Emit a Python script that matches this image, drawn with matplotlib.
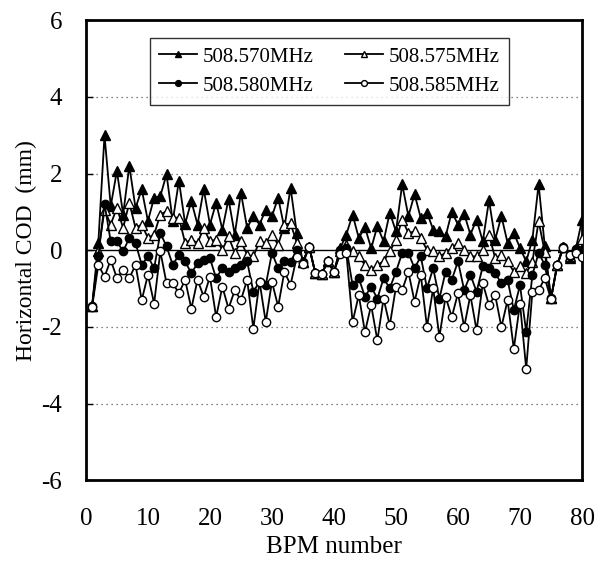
import numpy as np
import matplotlib
matplotlib.use("Agg")
import matplotlib.pyplot as plt

plt.rcParams['font.family'] = ['Liberation Serif', 'DejaVu Serif']
plt.rcParams['axes.unicode_minus'] = False

bpm = list(range(1, 81))

cod_570 = [-1.45, 0.19, 3.0, 1.15, 2.07, 0.93, 2.2, 1.1, 1.59, 0.76,
           1.37, 1.41, 1.98, 0.76, 1.81, 0.69, 1.28, 0.67, 1.59, 0.67,
           1.24, 0.54, 1.33, 0.41, 1.5, 0.58, 0.89, 0.67, 1.06, 0.89,
           1.37, 0.58, 1.63, 0.45, -0.3, 0.09, -0.6, -0.62, -0.29, -0.56,
           0.05, 0.41, 0.93, 0.32, 0.6, 0.05, 0.63, 0.23, 0.98, 0.49,
           1.72, 0.89, 1.46, 0.84, 0.98, 0.54, 0.49, 0.36, 1.0, 0.67,
           0.95, 0.41, 0.8, 0.23, 1.3, 0.28, 0.89, 0.19, 0.45, 0.06,
           -0.29, 0.28, 1.72, 0.1, -1.25, -0.38, 0.09, -0.2, 0.04, 0.78]

cod_575 = [-1.45, -0.03, 1.05, 0.67, 1.11, 0.58, 1.24, 0.58, 0.67, 0.32,
           0.41, 0.93, 1.02, 0.85, 0.85, 0.19, 0.28, 0.19, 0.58, 0.23,
           0.28, 0.01, 0.36, -0.07, 0.23, -0.12, -0.16, 0.23, 0.19, 0.41,
           0.14, 0.67, 0.7, 0.2, -0.3, 0.09, -0.6, -0.62, -0.29, -0.56,
           -0.03, 0.14, -0.03, -0.16, -0.38, -0.51, -0.38, -0.29, -0.03, 0.27,
           0.8, 0.45, 0.49, 0.32, 0.01, -0.03, -0.16, -0.07, 0.06, 0.19,
           0.01, -0.16, -0.16, 0.01, 0.41, -0.21, -0.12, -0.29, -0.56, -0.42,
           -0.6, -0.3, 0.76, -0.05, -1.25, -0.38, 0.09, -0.15, 0.04, 0.3]

cod_580 = [-1.45, -0.16, 1.21, 0.23, 0.23, -0.03, 0.32, 0.19, -0.38, -0.16,
           -0.47, 0.45, 0.1, -0.38, -0.12, -0.29, -0.6, -0.34, -0.25, -0.21,
           -0.73, -0.47, -0.56, -0.47, -0.38, -0.29, -1.08, -0.82, -0.91, -0.07,
           -0.47, -0.29, -0.3, 0.0, -0.3, 0.09, -0.6, -0.62, -0.29, -0.56,
           0.01, 0.06, -0.91, -0.73, -1.21, -0.95, -1.26, -0.73, -0.99, -0.56,
           -0.07, -0.07, -0.47, -0.16, -0.99, -0.47, -1.26, -0.56, -0.77, -0.29,
           -1.04, -0.64, -1.08, -0.42, -0.47, -0.6, -0.86, -0.77, -1.56, -0.91,
           -2.13, -0.64, -0.07, -0.38, -1.25, -0.38, 0.09, -0.15, 0.04, 0.0]

cod_585 = [-1.47, -0.38, -0.69, -0.25, -0.73, -0.51, -0.73, -0.38, -1.3, -0.64,
           -1.39, -0.03, -0.86, -0.86, -1.12, -0.77, -1.52, -0.77, -1.21, -0.69,
           -1.74, -0.95, -1.52, -1.04, -1.3, -0.77, -2.04, -0.82, -1.87, -0.82,
           -1.47, -0.56, -0.9, -0.17, -0.35, 0.09, -0.6, -0.62, -0.29, -0.56,
           -0.1, -0.07, -1.87, -1.17, -2.13, -1.43, -2.35, -1.26, -1.96, -0.95,
           -1.04, -0.56, -1.34, -0.64, -2.0, -0.99, -2.26, -1.21, -1.74, -1.12,
           -2.0, -1.17, -2.09, -0.86, -1.43, -1.17, -2.0, -1.3, -2.57, -1.39,
           -3.09, -1.08, -1.04, -0.73, -1.28, -0.39, 0.06, -0.12, -0.07, -0.18]

fig = plt.figure(figsize=(6.05, 5.72), dpi=100)
ax = fig.add_axes([0.142, 0.160, 0.820, 0.805])

# gridlines: dotted at +-2, +-4, solid at 0
for yv in [-4, -2, 2, 4]:
    ax.axhline(yv, color='0.35', lw=0.9, ls=(0, (1, 3)), zorder=0)
ax.axhline(0, color='black', lw=1.0, zorder=1)

lw = 1.3
h570, = ax.plot(bpm, cod_570, '-^', color='black', mfc='black', ms=7, lw=lw,
                label='508.570MHz', zorder=3)
h575, = ax.plot(bpm, cod_575, '-^', color='black', mfc='white', ms=7, lw=lw,
                label='508.575MHz', zorder=3)
h580, = ax.plot(bpm, cod_580, '-o', color='black', mfc='black', ms=6, lw=lw,
                label='508.580MHz', zorder=3)
h585, = ax.plot(bpm, cod_585, '-o', color='black', mfc='white', ms=6, lw=lw,
                label='508.585MHz', zorder=3)

ax.set_xlim(0, 80)
ax.set_ylim(-6, 6)
ax.set_xticks(range(0, 81, 10))
ax.set_yticks(range(-6, 7, 2))
ax.tick_params(axis='x', length=0, labelsize=18, pad=20)
ax.tick_params(axis='y', direction='in', length=5, width=1, labelsize=18, pad=17)
for sp in ax.spines.values():
    sp.set_linewidth(2)

ax.set_xlabel('BPM number', fontsize=18, labelpad=4)
ax.set_ylabel('Horizontal COD  (mm)', fontsize=17, labelpad=3)

# row order: 570, 575 / 580, 585
leg = ax.legend([h570, h580, h575, h585],
                ['508.570MHz', '508.580MHz', '508.575MHz', '508.585MHz'],
                ncol=2, loc='upper left', bbox_to_anchor=(0.108, 0.984),
                fontsize=15, frameon=True, fancybox=False, edgecolor='black',
                handlelength=1.8, handletextpad=0.3, columnspacing=1.5,
                borderpad=0.45, labelspacing=0.45, markerscale=0.7)
leg.get_frame().set_linewidth(1.0)

fig.savefig('out.png', dpi=100)
